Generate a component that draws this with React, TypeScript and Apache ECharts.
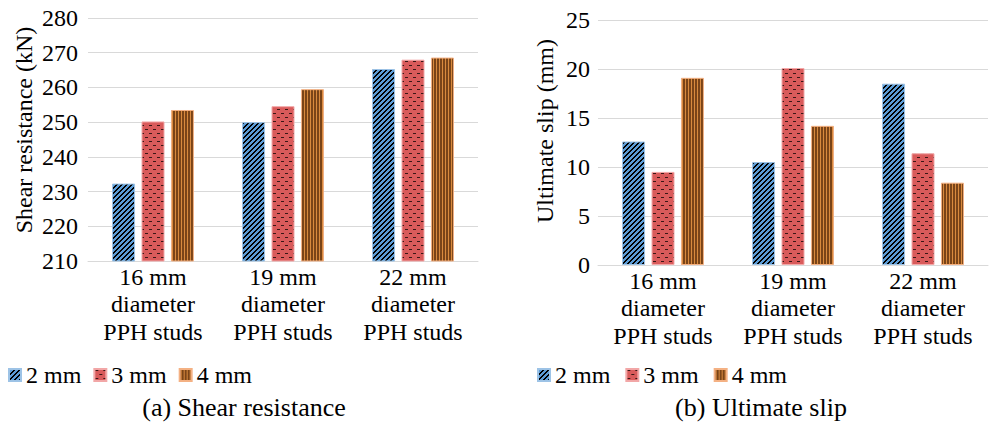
import React, { useEffect, useRef } from 'react';
import * as echarts from 'echarts';

const categories = ['16 mm\ndiameter\nPPH studs', '19 mm\ndiameter\nPPH studs', '22 mm\ndiameter\nPPH studs'];
const seriesNames = ['2 mm', '3 mm', '4 mm'];
const shear2 = [232.3, 250.0, 265.3];
const shear3 = [250.2, 254.6, 268.0];
const shear4 = [253.5, 259.5, 268.6];
const slip2 = [12.6, 10.5, 18.5];
const slip3 = [9.5, 20.1, 11.4];
const slip4 = [19.1, 14.2, 8.4];
const captionA = '(a) Shear resistance';
const captionB = '(b) Ultimate slip';
const yNameA = 'Shear resistance (kN)';
const yNameB = 'Ultimate slip (mm)';

const FONT = 'Liberation Serif, Times New Roman, serif';

function tile(w: number, h: number, draw: (ctx: CanvasRenderingContext2D) => void) {
  const c = document.createElement('canvas');
  c.width = w;
  c.height = h;
  const ctx = c.getContext('2d') as CanvasRenderingContext2D;
  draw(ctx);
  return c;
}

function makePatterns() {
  const blue = tile(5, 5, (ctx) => {
    ctx.fillStyle = '#5B9BD5';
    ctx.fillRect(0, 0, 5, 5);
    ctx.fillStyle = '#000000';
    for (let x = 0; x < 5; x++) for (let y = 0; y < 5; y++) if ((x + y) % 5 < 2) ctx.fillRect(x, y, 1, 1);
  });
  const red = tile(8, 8, (ctx) => {
    ctx.fillStyle = '#D95B5B';
    ctx.fillRect(0, 0, 8, 8);
    ctx.fillStyle = '#3A1616';
    ctx.fillRect(1, 1, 3, 1);
    ctx.fillRect(5, 5, 3, 1);
  });
  const brown = tile(3, 1, (ctx) => {
    ctx.fillStyle = '#7A4418';
    ctx.fillRect(0, 0, 3, 1);
    ctx.fillStyle = '#D98A3E';
    ctx.fillRect(1, 0, 1, 1);
  });
  return { blue, red, brown };
}

export default function App() {
  const ref = useRef<HTMLDivElement>(null);
  useEffect(() => {
    if (!ref.current) return;
    const chart = echarts.init(ref.current, null, { renderer: 'svg' });
    const p = makePatterns();
    const fills = [
      { color: { image: p.blue, repeat: 'repeat' }, borderColor: '#9DC3E6' },
      { color: { image: p.red, repeat: 'repeat' }, borderColor: '#F2A7A7' },
      { color: { image: p.brown, repeat: 'repeat' }, borderColor: '#F4B183' },
    ];
    const axisLabel = { color: '#000', fontFamily: FONT, fontSize: 24 };
    const xAxisCommon = (gridIndex: number) => ({
      type: 'category',
      gridIndex,
      data: categories,
      axisTick: { show: false },
      axisLine: { lineStyle: { color: '#D9D9D9', width: 1 } },
      axisLabel: { ...axisLabel, lineHeight: 27.5, margin: 2, interval: 0 },
    });
    const yCommon = (gridIndex: number, min: number, max: number, interval: number, margin: number) => ({
      type: 'value',
      gridIndex,
      min,
      max,
      interval,
      axisLine: { show: false },
      axisTick: { show: false },
      splitLine: { lineStyle: { color: '#D9D9D9', width: 1 } },
      axisLabel: { ...axisLabel, margin },
    });
    const mk = (name: string, i: number, data: number[], axis: number) => ({
      type: 'bar',
      name,
      xAxisIndex: axis,
      yAxisIndex: axis,
      data,
      barWidth: 23,
      barGap: '28%',
      itemStyle: { color: fills[i].color, borderColor: fills[i].borderColor, borderWidth: 1 },
    });
    const legendCommon = {
      itemWidth: 12,
      itemHeight: 12,
      icon: 'rect',
      textStyle: { color: '#000', fontFamily: FONT, fontSize: 24 },
      data: seriesNames,
      selectedMode: false,
    };
    const txt = (text: string, x: number, y: number, size: number, rot: number) => ({
      type: 'text',
      x,
      y,
      rotation: rot,
      style: { text, fill: '#000', fontSize: size, fontFamily: FONT, align: 'center', verticalAlign: 'middle', textAlign: 'center', textVerticalAlign: 'middle' },
    });
    chart.setOption({
      animation: false,
      grid: [
        { left: 88, top: 18, width: 390, height: 243 },
        { left: 598, top: 20, width: 390, height: 245 },
      ],
      xAxis: [xAxisCommon(0), xAxisCommon(1)],
      yAxis: [yCommon(0, 210, 280, 10, 10), yCommon(1, 0, 25, 5, 8)],
      legend: [
        { ...legendCommon, left: 3, top: 358, itemGap: 12 },
        { ...legendCommon, left: 532, top: 358, itemGap: 15 },
      ],
      series: [
        mk(seriesNames[0], 0, shear2, 0),
        mk(seriesNames[1], 1, shear3, 0),
        mk(seriesNames[2], 2, shear4, 0),
        mk(seriesNames[0], 0, slip2, 1),
        mk(seriesNames[1], 1, slip3, 1),
        mk(seriesNames[2], 2, slip4, 1),
      ],
      graphic: [
        txt(yNameA, 24, 130, 24, Math.PI / 2),
        txt(yNameB, 545, 131, 24, Math.PI / 2),
        txt(captionA, 244, 407, 26, 0),
        txt(captionB, 761, 407, 26, 0),
      ],
    });
    return () => chart.dispose();
  }, []);
  return <div ref={ref} style={{ position: 'fixed', left: 0, top: 0, width: 989, height: 425, background: '#fff' }} />;
}
